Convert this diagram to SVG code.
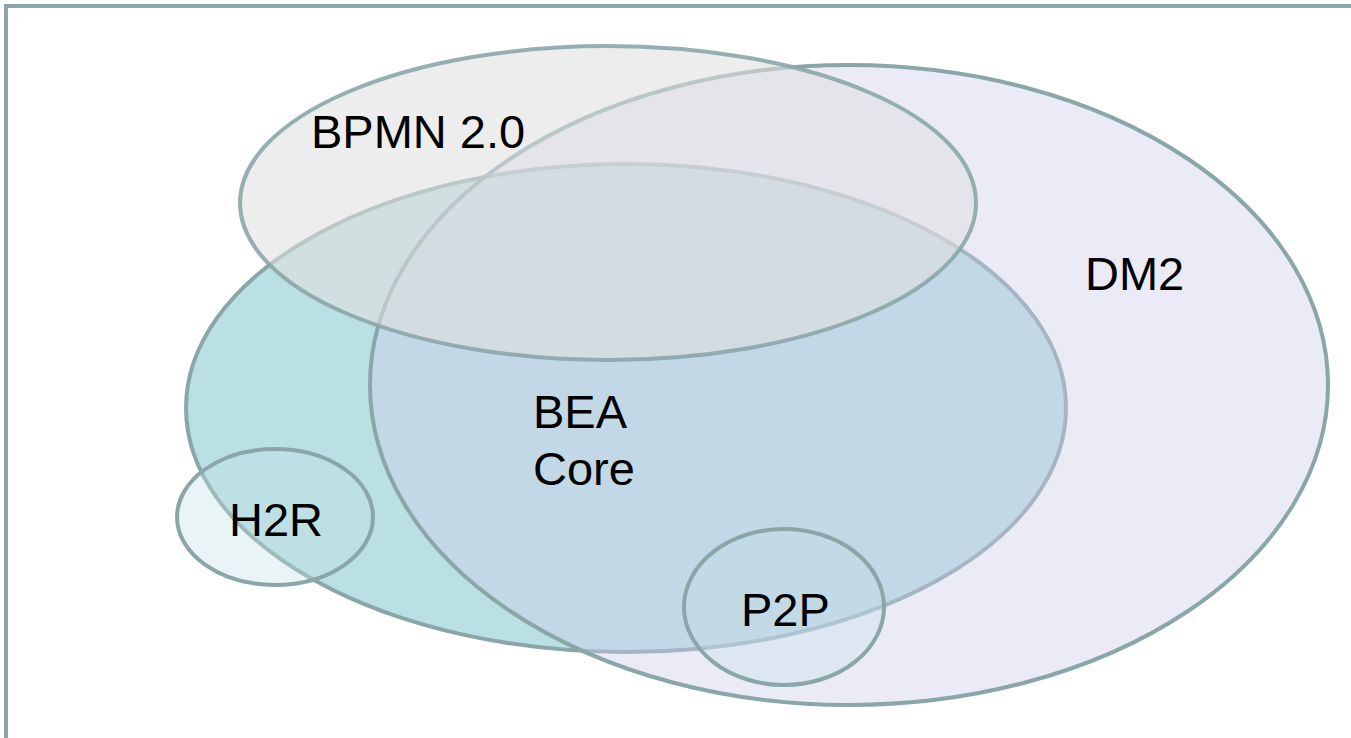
<svg xmlns="http://www.w3.org/2000/svg" width="1351" height="738" viewBox="0 0 1351 738">
<style>
.e{stroke:#8BA6A8;stroke-width:4}
.t{font-family:"Liberation Sans",Arial,sans-serif;font-size:47px;fill:#000}
</style>
<rect width="1351" height="738" fill="#fff"/>
<rect x="6" y="6" width="1400" height="800" fill="none" stroke="#8BA6A8" stroke-width="4"/>
<g id="bea"><ellipse class="e" cx="626" cy="408" rx="440" ry="244" fill="#BBE0E3"/></g>
<g id="dm2"><ellipse class="e" cx="849" cy="385" rx="479" ry="320" fill="#CCCCEE" fill-opacity="0.4"/></g>
<g id="bpmn"><ellipse class="e" cx="608" cy="203" rx="368" ry="157" fill="#E0E0E0" fill-opacity="0.57" stroke-opacity="0.9"/></g>
<g id="h2r"><ellipse class="e" cx="275" cy="517" rx="98" ry="68" fill="#BFE0E6" fill-opacity="0.35"/></g>
<g id="p2p"><ellipse class="e" cx="784" cy="607" rx="100" ry="78" fill="#BFE0E6" fill-opacity="0.35"/></g>
<g id="labels">
<text class="t" x="311" y="148">BPMN 2.0</text>
<text class="t" x="1085" y="290">DM2</text>
<text class="t" x="533" y="428">BEA</text>
<text class="t" x="533" y="485">Core</text>
<text class="t" x="229" y="536">H2R</text>
<text class="t" x="741" y="626">P2P</text>
</g>
<g id="connectors"/>
</svg>
